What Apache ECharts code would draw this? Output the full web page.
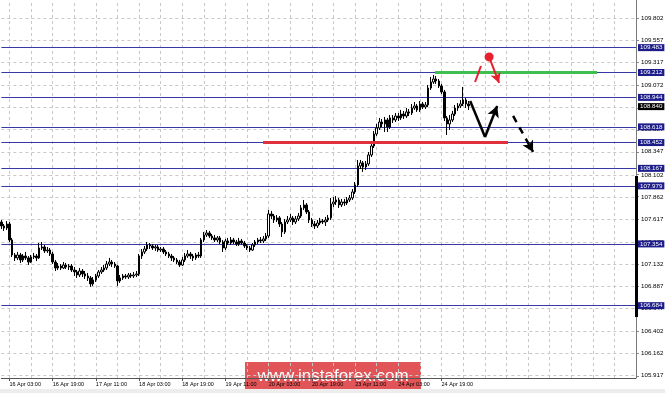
<!DOCTYPE html>
<html><head><meta charset="utf-8">
<script src="https://cdn.jsdelivr.net/npm/echarts@6/dist/echarts.min.js"></script>
<style>html,body{margin:0;padding:0;background:#fff}#c{width:665px;height:393px}</style>
</head><body><div id="c"></div>
<script>
// H1 candles, 16 Apr 00:00 .. 25 Apr 05:00 (weekend skipped)
const openPrices = [
107.588,107.545,107.523,107.566,107.393,107.230,107.198,107.230,107.176,107.219,
107.198,107.154,107.208,107.219,107.198,107.306,107.317,107.274,107.284,107.241,
107.154,107.089,107.110,107.089,107.121,107.100,107.110,107.067,107.046,107.013,
107.056,107.024,107.002,106.981,106.916,106.959,107.002,107.046,107.067,107.089,
107.132,107.154,107.132,107.110,106.948,106.981,107.002,106.991,107.013,107.002,
107.013,107.024,107.219,107.263,107.295,107.339,107.328,107.306,107.317,107.284,
107.295,107.263,107.241,107.219,107.198,107.176,107.154,107.121,107.176,107.219,
107.241,107.219,107.198,107.230,107.219,107.393,107.447,107.469,107.436,107.415,
107.393,107.415,107.371,107.306,107.382,107.360,107.393,107.371,107.349,107.382,
107.360,107.328,107.306,107.284,107.339,107.371,107.393,107.382,107.404,107.436,
107.675,107.653,107.610,107.632,107.566,107.480,107.588,107.610,107.632,107.588,
107.621,107.653,107.740,107.773,107.697,107.610,107.566,107.545,107.577,107.599,
107.588,107.610,107.632,107.784,107.805,107.827,107.773,107.805,107.794,107.827,
107.849,107.914,107.990,108.196,108.229,108.185,108.218,108.315,108.413,108.543,
108.608,108.673,108.652,108.695,108.619,108.717,108.695,108.738,108.717,108.760,
108.738,108.782,108.771,108.825,108.847,108.804,108.869,108.836,108.858,109.042,
109.107,109.140,109.118,109.064,108.999,108.717,108.652,108.695,108.760,108.825,
108.847,108.869,108.912,108.869];
const closePrices = [
107.545,107.523,107.566,107.393,107.230,107.198,107.230,107.176,107.219,107.198,
107.154,107.208,107.219,107.198,107.306,107.317,107.274,107.284,107.241,107.154,
107.089,107.110,107.089,107.121,107.100,107.110,107.067,107.046,107.013,107.056,
107.024,107.002,106.981,106.916,106.959,107.002,107.046,107.067,107.089,107.132,
107.154,107.132,107.110,106.948,106.981,107.002,106.991,107.013,107.002,107.013,
107.024,107.219,107.263,107.295,107.339,107.328,107.306,107.317,107.284,107.295,
107.263,107.241,107.219,107.198,107.176,107.154,107.121,107.176,107.219,107.241,
107.219,107.198,107.230,107.219,107.393,107.447,107.469,107.436,107.415,107.393,
107.415,107.371,107.306,107.382,107.360,107.393,107.371,107.349,107.382,107.360,
107.328,107.306,107.284,107.339,107.371,107.393,107.382,107.404,107.436,107.675,
107.653,107.610,107.632,107.566,107.480,107.588,107.610,107.632,107.588,107.621,
107.653,107.740,107.773,107.697,107.610,107.566,107.545,107.577,107.599,107.588,
107.610,107.632,107.784,107.805,107.827,107.773,107.805,107.794,107.827,107.849,
107.914,107.990,108.196,108.229,108.185,108.218,108.315,108.413,108.543,108.608,
108.673,108.652,108.695,108.619,108.717,108.695,108.738,108.717,108.760,108.738,
108.782,108.771,108.825,108.847,108.804,108.869,108.836,108.858,109.042,109.107,
109.140,109.118,109.064,108.999,108.717,108.652,108.695,108.760,108.825,108.847,
108.869,108.912,108.869,108.847];
const lowPrices = [
107.512,107.491,107.501,107.371,107.208,107.165,107.176,107.143,107.154,107.176,
107.121,107.143,107.187,107.165,107.187,107.284,107.252,107.252,107.219,107.132,
107.056,107.067,107.067,107.078,107.078,107.067,107.046,107.002,106.981,106.991,
106.991,106.970,106.948,106.883,106.894,106.937,106.981,107.024,107.046,107.067,
107.110,107.100,107.089,106.894,106.927,106.959,106.970,106.970,106.981,106.981,
106.991,107.002,107.187,107.241,107.274,107.295,107.284,107.274,107.263,107.263,
107.241,107.219,107.198,107.165,107.154,107.132,107.100,107.110,107.154,107.198,
107.187,107.165,107.176,107.198,107.198,107.371,107.425,107.415,107.393,107.371,
107.371,107.349,107.263,107.284,107.339,107.339,107.349,107.328,107.328,107.339,
107.306,107.284,107.263,107.274,107.317,107.349,107.360,107.360,107.382,107.415,
107.621,107.577,107.588,107.534,107.425,107.458,107.566,107.588,107.556,107.566,
107.599,107.632,107.718,107.675,107.577,107.534,107.512,107.523,107.556,107.566,
107.545,107.588,107.610,107.751,107.773,107.740,107.751,107.762,107.773,107.805,
107.827,107.892,107.968,108.163,108.131,108.153,108.196,108.294,108.391,108.521,
108.587,108.619,108.565,108.565,108.597,108.662,108.673,108.684,108.695,108.706,
108.717,108.738,108.749,108.804,108.782,108.782,108.814,108.814,108.836,109.021,
109.086,109.086,109.042,108.977,108.684,108.532,108.587,108.673,108.738,108.793,
108.825,108.847,108.825,108.804];
const highPrices = [
107.610,107.566,107.599,107.588,107.415,107.252,107.263,107.252,107.241,107.263,
107.219,107.230,107.252,107.241,107.360,107.371,107.339,107.317,107.306,107.263,
107.176,107.143,107.132,107.154,107.143,107.132,107.132,107.100,107.067,107.089,
107.078,107.056,107.035,107.002,106.991,107.024,107.067,107.100,107.121,107.165,
107.198,107.176,107.154,107.121,107.013,107.024,107.024,107.035,107.035,107.046,
107.056,107.241,107.295,107.328,107.371,107.360,107.349,107.339,107.339,107.317,
107.317,107.284,107.263,107.241,107.219,107.198,107.176,107.208,107.252,107.284,
107.263,107.241,107.252,107.263,107.415,107.480,107.501,107.491,107.458,107.447,
107.436,107.436,107.393,107.404,107.415,107.425,107.415,107.393,107.415,107.404,
107.382,107.349,107.328,107.360,107.393,107.415,107.425,107.436,107.469,107.718,
107.708,107.675,107.664,107.653,107.588,107.621,107.653,107.675,107.653,107.653,
107.686,107.773,107.827,107.794,107.718,107.632,107.599,107.610,107.632,107.621,
107.643,107.664,107.849,107.859,107.870,107.849,107.838,107.838,107.859,107.881,
107.946,108.022,108.261,108.261,108.250,108.250,108.348,108.445,108.576,108.652,
108.717,108.706,108.728,108.717,108.749,108.749,108.771,108.771,108.804,108.793,
108.825,108.814,108.869,108.890,108.869,108.901,108.890,108.890,109.075,109.162,
109.183,109.173,109.140,109.086,109.021,108.738,108.749,108.793,108.858,108.879,
108.912,109.053,108.934,108.901];

const yTickValues = [109.802,109.557,109.317,109.072,108.827,108.587,108.347,108.102,107.862,107.617,107.372,107.132,106.887,106.647,106.402,106.162,105.917];
const levelValues = [109.483,109.212,108.944,108.618,108.452,108.167,107.979,107.354,106.684];
const currentPrice = 108.840;
const xTickLabels = ['16 Apr 03:00','16 Apr 19:00','17 Apr 11:00','18 Apr 03:00','18 Apr 19:00','19 Apr 11:00','20 Apr 03:00','20 Apr 19:00','23 Apr 11:00','24 Apr 03:00','24 Apr 19:00'];
const xTickBars = [3,19,35,51,67,83,99,115,131,147,163];
const xGridBars = [3,11,19,27,35,43,51,59,67,75,83,91,99,107,115,123,131,139,147,155,163,171,179,187,195,203,211,219,227];
const totalSlots = 236;

// drawn objects, in [bar index, price]
const resistanceLine = [[160.6,109.212],[220.6,109.212]];
const supportLine = [[96.9,108.452],[187.6,108.452]];
const zigzagPath = [[173.6,108.901],[179.1,108.511],[183.6,108.847]];
const dashedArrow = [[189.5,108.739],[196.9,108.348]];
const redArrow = [[180.6,109.379],[184.3,109.097]];
const redSlash = [[175.4,109.107],[177.6,109.281]];
const rangeBar = [[235,108.087],[235,106.557]];

const categories = Array.from({length: totalSlots}, (_, i) => String(i));
const candles = openPrices.map((o, i) => [o, closePrices[i], lowPrices[i], highPrices[i]]);
const FONT = 'Liberation Sans';

const gridLines = yTickValues.map(v => ({yAxis: v, label: {formatter: v.toFixed(3)}}))
  .concat(xGridBars.map(b => ({xAxis: b, label: {show: false}})))
  .concat([{xAxis: totalSlots - 1, lineStyle: {color: '#7a7a7a', type: 'solid'}, label: {show: false}}]);
const levelLines = levelValues.map(v => ({yAxis: v, label: {formatter: v.toFixed(3)}}));
levelLines.push({
  yAxis: currentPrice,
  lineStyle: {color: 'rgba(0,0,0,0)'},
  label: {formatter: currentPrice.toFixed(3), backgroundColor: '#000'}
});

function seg(a, b, extra) {
  return [Object.assign({coord: a}, extra && extra.start || {}), Object.assign({coord: b}, extra && extra.end || {})];
}

const chart = echarts.init(document.getElementById('c'), null, {renderer: 'canvas'});
chart.setOption({
  animation: false,
  backgroundColor: '#fff',
  grid: {left: 1.35, right: 29, top: 0, bottom: 15},
  xAxis: [{
    type: 'category', data: categories, boundaryGap: false,
    axisLine: {onZero: false, lineStyle: {color: '#555', width: 1}},
    axisTick: {length: 3, lineStyle: {color: '#555'}, interval: (i) => xTickBars.indexOf(i) >= 0},
    axisLabel: {
      interval: (i) => xTickBars.indexOf(i) >= 0,
      formatter: (v, i) => { const k = xTickBars.indexOf(Number(v)); return k >= 0 ? xTickLabels[k] : ''; },
      align: 'left', fontSize: 5.5, fontFamily: FONT, color: '#000', margin: 3
    },
    splitLine: {show: false}
  }, {
    type: 'value', min: 0, max: totalSlots - 1, show: false
  }],
  yAxis: {
    type: 'value', position: 'right', min: 105.895, max: 109.997, scale: true,
    axisLine: {show: false, onZero: false},
    axisTick: {show: true, length: 3, customValues: yTickValues, lineStyle: {color: '#888'}},
    axisLabel: {show: false},
    splitLine: {show: false}
  },
  series: [{
    name: 'grid', type: 'line', xAxisIndex: 1, data: [], z: 1,
    markLine: {
      silent: true, symbol: 'none', z: 1, animation: false,
      lineStyle: {color: '#c8c8c8', type: [3, 3], width: 1},
      label: {show: true, position: 'end', distance: 5, fontSize: 6.2, fontFamily: FONT, color: '#000'},
      data: gridLines
    }
  }, {
    name: 'levels', type: 'line', xAxisIndex: 1, data: [], z: 2,
    markLine: {
      silent: true, symbol: 'none', z: 2, animation: false,
      lineStyle: {color: '#3838a6', type: 'solid', width: 1},
      label: {show: true, position: 'end', distance: 2, fontSize: 6.2, fontFamily: FONT, color: '#fff',
              backgroundColor: '#1c1c8a', padding: [1, 2, 0, 2]},
      data: levelLines
    }
  }, {
    name: 'USDJPY H1', type: 'candlestick', xAxisIndex: 0, data: candles, z: 3,
    barWidth: 2, clip: false,
    itemStyle: {color: '#ffffff', color0: '#000000', borderColor: '#000000', borderColor0: '#000000', borderWidth: 1}
  }, {
    name: 'objects', type: 'line', xAxisIndex: 1, data: [], z: 4,
    markLine: {
      silent: true, z: 6, animation: false, symbol: 'none',
      label: {show: false},
      data: [
        seg(resistanceLine[0], resistanceLine[1], {start: {lineStyle: {color: '#3fbf4f', width: 3, type: 'solid'}}}),
        seg(supportLine[0], supportLine[1], {start: {lineStyle: {color: '#e0303e', width: 3, type: 'solid'}}}),
        seg(zigzagPath[0], zigzagPath[1], {start: {lineStyle: {color: '#000', width: 2.5, type: 'solid'}}}),
        seg(zigzagPath[1], zigzagPath[2], {start: {lineStyle: {color: '#000', width: 2.5, type: 'solid'}}, end: {symbol: 'arrow', symbolSize: [9, 11]}}),
        seg(dashedArrow[0], dashedArrow[1], {start: {lineStyle: {color: '#000', width: 2.5, type: [7, 6]}}, end: {symbol: 'arrow', symbolSize: [9, 11]}}),
        seg(redArrow[0], redArrow[1], {start: {symbol: 'circle', symbolSize: 9, lineStyle: {color: '#e8202e', width: 2, type: 'solid'}}, end: {symbol: 'arrow', symbolSize: [8, 10]}}),
        seg(redSlash[0], redSlash[1], {start: {lineStyle: {color: '#e8202e', width: 2, type: 'solid'}}}),
        seg(rangeBar[0], rangeBar[1], {start: {lineStyle: {color: '#000', width: 3, type: 'solid'}}})
      ]
    }
  }],
  graphic: [{
    type: 'rect', left: 0, top: 389, shape: {width: 665, height: 4}, style: {fill: '#ededed'}, z: 50, silent: true
  }, {
    type: 'group', left: 245, top: 362, z: 100, silent: true,
    children: [{
      type: 'rect', shape: {x: 0, y: 0, width: 176, height: 28}, style: {fill: 'rgba(220,56,60,0.86)'}
    }, {
      type: 'text', x: 88, y: 14, style: {text: 'www.instaforex.com', fill: '#fff', font: '17px "Liberation Sans"', textAlign: 'center', textVerticalAlign: 'middle'}
    }]
  }]
});
</script>
</body></html>
